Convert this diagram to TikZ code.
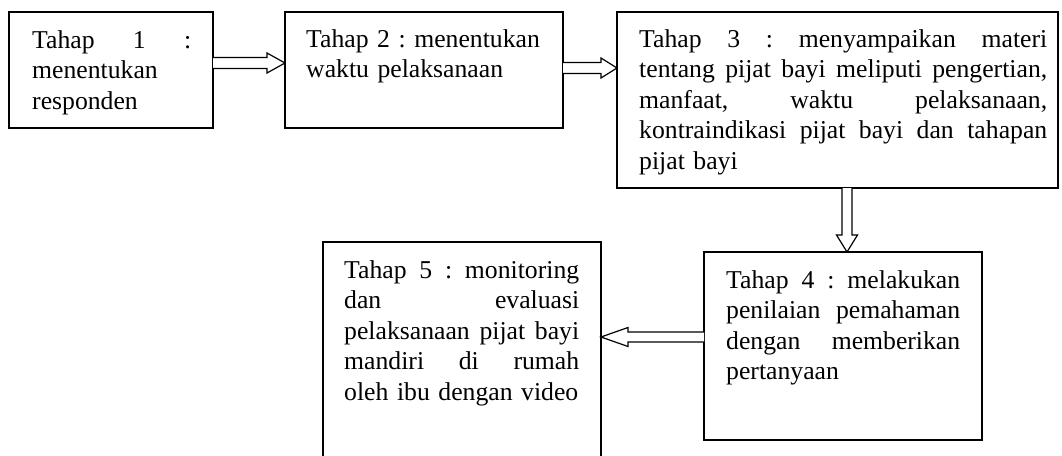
\documentclass[tikz,border=0pt]{standalone}
\usepackage{fontspec}
\setmainfont{Liberation Serif}
\usetikzlibrary{calc}
\newcommand{\jl}[2]{\leavevmode\hbox to #1{\spaceskip=0.25em plus 1fil\relax #2}}
\newcommand{\nl}[1]{\mbox{#1}}
\begin{document}
\frenchspacing
\begin{tikzpicture}[x=1pt,y=-1pt,
  box/.style={draw, line width=1.3pt, anchor=north west, inner sep=0pt, outer sep=0pt},
  txt/.style={anchor=base west, inner sep=0pt, align=left, font=\fontsize{25.7}{30.5}\selectfont\frenchspacing},
  blk/.style={draw, line width=1.2pt, line join=miter, fill=white}]
\clip (0,0) rectangle (1062,455);
\fill[white] (0,0) rectangle (1062,455);
% boxes
\node[box, minimum width=204pt, minimum height=116pt] (b1) at (9,12) {};
\node[box, minimum width=278pt, minimum height=116pt] (b2) at (285,12) {};
\node[box, minimum width=441pt, minimum height=176pt] (b3) at (617,12) {};
\node[box, minimum width=278pt, minimum height=188pt] (b4) at (704,252) {};
\node[box, minimum width=278pt, minimum height=240pt] (b5) at (323,242) {};
% texts
\node[txt, text width=159pt] (t1) at (32,48) {\jl{159pt}{Tahap 1 :}\\\nl{menentukan}\\\nl{responden}};
\node[txt, text width=240pt] (t2) at (306,47) {\nl{Tahap 2 : menentukan}\\\nl{waktu pelaksanaan}};
\node[txt, text width=408pt] (t3) at (639,47) {\jl{408pt}{Tahap 3 : menyampaikan materi}\\\jl{408pt}{tentang pijat bayi meliputi pengertian,}\\\jl{408pt}{manfaat, waktu pelaksanaan,}\\\jl{408pt}{kontraindikasi pijat bayi dan tahapan}\\\nl{pijat bayi}};
\node[txt, text width=234pt] (t4) at (726,288) {\jl{234pt}{Tahap 4 : melakukan}\\\jl{234pt}{penilaian pemahaman}\\\jl{234pt}{dengan memberikan}\\\nl{pertanyaan}};
\node[txt, text width=235pt] (t5) at (344,278) {\jl{235pt}{Tahap 5 : monitoring}\\\jl{235pt}{dan evaluasi}\\\jl{235pt}{pelaksanaan pijat bayi}\\\jl{235pt}{mandiri di rumah}\\\nl{oleh ibu dengan video}};
% helper coordinates
\coordinate (ya) at (0,63);
\coordinate (yb) at (0,68);
\coordinate (xc) at (847,0);
\coordinate (yd) at (0,337);
% arrows
\draw[blk] let \p1=(b1.east |- ya), \p2=(b2.west |- ya) in
  (\x1,\y1+5.5) -- (\x2-18,\y1+5.5) -- (\x2-18,\y1+10) -- (\x2,\y1) -- (\x2-18,\y1-10) -- (\x2-18,\y1-5.5) -- (\x1,\y1-5.5);
\draw[blk] let \p1=(b2.east |- yb), \p2=(b3.west |- yb) in
  (\x1,\y1+5.5) -- (\x2-16,\y1+5.5) -- (\x2-16,\y1+10) -- (\x2,\y1) -- (\x2-16,\y1-10) -- (\x2-16,\y1-5.5) -- (\x1,\y1-5.5);
\draw[blk] let \p1=(b3.south -| xc), \p2=(b4.north -| xc) in
  (\x1-5,\y1) -- (\x1-5,\y2+17) -- (\x1-10.5,\y2+17) -- (\x1,\y2) -- (\x1+10.5,\y2+17) -- (\x1+5,\y2+17) -- (\x1+5,\y1);
\draw[blk] let \p1=(b4.west |- yd), \p2=(b5.east |- yd) in
  (\x1,\y1+5) -- (\x2+27,\y1+5) -- (\x2+27,\y1+9.5) -- (\x2,\y1) -- (\x2+27,\y1-9.5) -- (\x2+27,\y1-5) -- (\x1,\y1-5);
\end{tikzpicture}
\end{document}
